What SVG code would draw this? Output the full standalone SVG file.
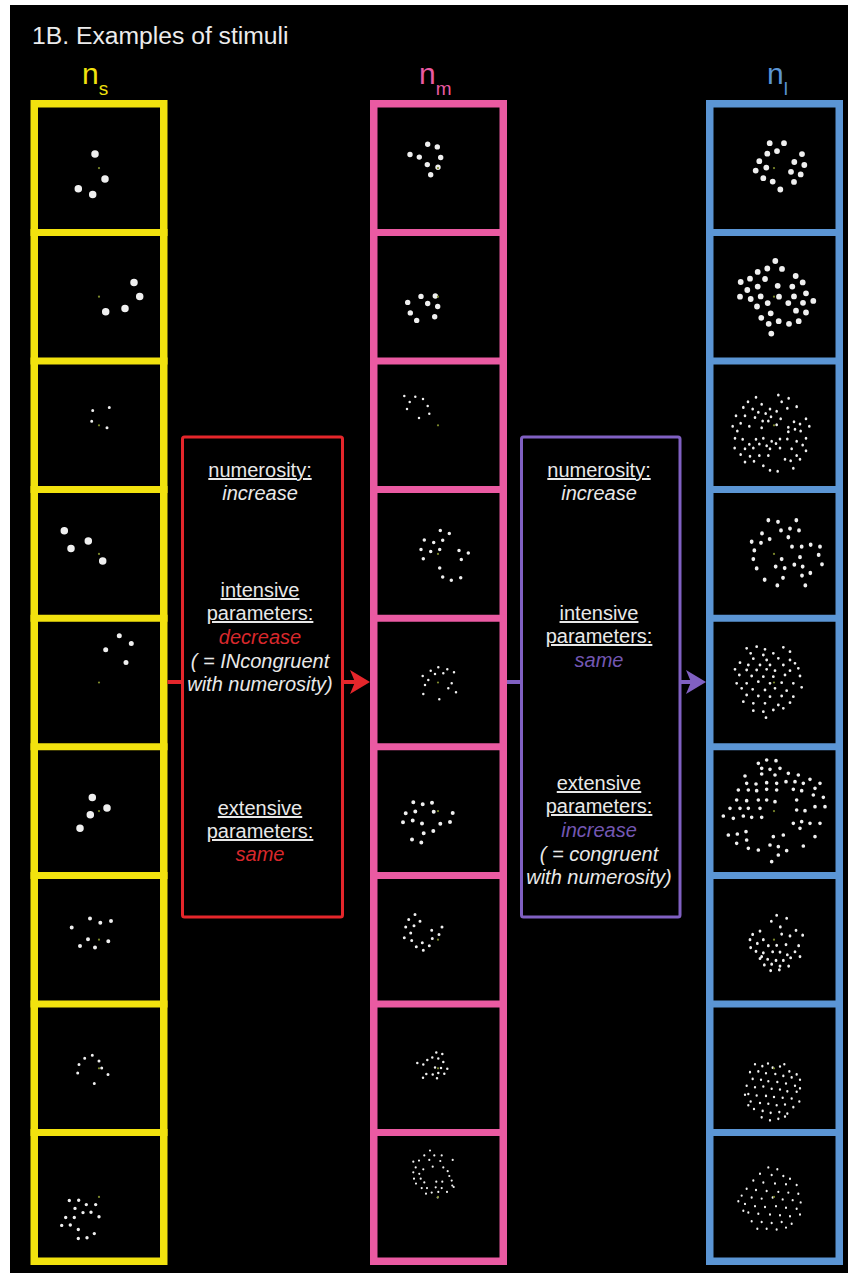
<svg xmlns="http://www.w3.org/2000/svg" width="854" height="1278" viewBox="0 0 854 1278">
<defs>
<style>
.lab{font-family:"Liberation Sans",Arial,Helvetica,sans-serif}
.t{font-family:"Liberation Sans",Arial,Helvetica,sans-serif;font-size:20px;text-anchor:middle;fill:#e9e9e9}
.u{text-decoration:underline}
.i{font-style:italic}
.tr{fill:#d8282c}
.tp{fill:#7357b3}
.col{fill:none;stroke-width:7.5}
.dv{fill:none;stroke-width:7}
.d{fill:none;stroke:#efefef;stroke-linecap:round}
.fx{fill:#7d8a2c}
.y{stroke:#f2e20e}
.p{stroke:#ea5aa2}
.b{stroke:#5b95d4}
</style>
<marker id="ahR" markerUnits="userSpaceOnUse" markerWidth="20" markerHeight="24" refX="10" refY="12" orient="auto"><path d="M0,0 L20,12 L0,24 L5,12 z" fill="#e5262b"/></marker>
<marker id="ahP" markerUnits="userSpaceOnUse" markerWidth="20" markerHeight="24" refX="10" refY="12" orient="auto"><path d="M0,0 L20,12 L0,24 L5,12 z" fill="#8060c2"/></marker>
</defs>
<rect x="0" y="0" width="854" height="1278" fill="#ffffff"/>
<rect x="10" y="5" width="838" height="1268" fill="#000000"/>
<text class="lab" x="32" y="44" font-size="24.7" fill="#ececec">1B. Examples of stimuli</text>

<g id="col-ns">
<text class="lab" x="82" y="84" font-size="30" fill="#f2e20e">n<tspan font-size="19" dy="11">s</tspan></text>
<rect class="col y" x="34.25" y="103.75" width="129.5" height="1157.5"/>
<path class="dv y" d="M30.5 232.4h137M30.5 361h137M30.5 489.6h137M30.5 618.2h137M30.5 746.8h137M30.5 875.4h137M30.5 1004h137M30.5 1132.6h137"/>
<path class="d" stroke-width="7.5" d="M95 154.1h0M105 178.9h0M78.3 188.7h0M92.7 194.4h0M134 282.4h0M139.7 296.4h0M125 308.4h0M105.7 311.8h0M64.3 530.8h0M88.3 541h0M71 548.5h0M102.7 560.9h0M92.3 797.4h0M107 808h0M90.3 814.7h0M80 828.3h0"/>
<path class="d" stroke-width="3" d="M92.7 410.4h0M109.3 407.4h0M91.7 421.3h0M107 427.7h0M92.3 1055.2h0M84.7 1058.2h0M99 1060.9h0M79 1064.6h0M101.7 1068h0M77.7 1072.9h0M108 1074.4h0M94.3 1083.5h0"/>
<path class="d" stroke-width="5" d="M119.3 635.8h0M131.3 643.4h0M105.7 649.8h0M126 662.6h0"/>
<path class="d" stroke-width="4" d="M90 918.6h0M100.3 922.8h0M111 920.9h0M71.7 927.6h0M88 939.3h0M108.3 941.2h0M80 946.1h0M95 947.6h0"/>
<path class="d" stroke-width="3.4" d="M69.3 1200.5h0M78.7 1200.2h0M86.3 1204.6h0M95.7 1204.6h0M75 1208.4h0M83 1212.6h0M91 1212.2h0M65.7 1217.5h0M74.3 1217.5h0M99 1216.7h0M61.7 1225.4h0M70.3 1225h0M78.3 1229.5h0M94.3 1233.6h0M78.3 1238.5h0M87 1237.8h0"/>
<g class="fx"><circle cx="99" cy="168.1" r="1.1"/><circle cx="99" cy="296.7" r="1.1"/><circle cx="99" cy="425.3" r="1.1"/><circle cx="99" cy="553.9" r="1.1"/><circle cx="99" cy="682.5" r="1.1"/><circle cx="99" cy="811.1" r="1.1"/><circle cx="99" cy="939.7" r="1.1"/><circle cx="99" cy="1068.3" r="1.1"/><circle cx="99" cy="1196.9" r="1.1"/></g>
</g>

<g id="col-nm">
<text class="lab" x="419" y="84" font-size="30" fill="#ea5aa2">n<tspan font-size="19" dy="11">m</tspan></text>
<rect class="col p" x="373.75" y="103.75" width="129.5" height="1157.5"/>
<path class="dv p" d="M370 232.4h137M370 361h137M370 489.6h137M370 618.2h137M370 746.8h137M370 875.4h137M370 1004h137M370 1132.6h137"/>
<path class="d" stroke-width="5.4" d="M427.7 144.3h0M437.3 146.9h0M410 154.5h0M419.3 157.1h0M440.7 157.5h0M427.3 164.6h0M438 167.3h0M430.7 174.8h0M421 296.4h0M435.3 296h0M407.7 302.4h0M427.7 303.5h0M437.7 306.5h0M410.3 312.9h0M434.7 316.7h0M416.7 320.4h0"/>
<path class="d" stroke-width="2.5" d="M404.3 396.1h0M415.3 396.8h0M423 399.1h0M409.7 402.1h0M427.7 405.9h0M407 408.9h0M429.3 413.8h0M419 417.9h0M438.3 667.3h0M430.7 670.7h0M447.3 669.3h0M454 672.3h0M422.7 676h0M435 674h0M443.3 673.3h0M428.3 680h0M451.7 683.3h0M425 685h0M448.3 688.3h0M456 692.3h0M423.3 694h0M439.3 699.3h0M436.3 1052.6h0M442.3 1054.1h0M432.3 1057.5h0M427.3 1060.1h0M438.3 1058.6h0M417.3 1063.1h0M423.3 1064.6h0M443.3 1062h0M435 1067.6h0M441 1068h0M447.3 1068.8h0M426.3 1074h0M432.7 1074.4h0M438.3 1072.9h0M444.3 1073.7h0M423 1077.8h0M437 1078.2h0"/>
<path class="d" stroke-width="3.5" d="M440.3 530.5h0M449.3 533.5h0M424.3 539.9h0M433.7 542.5h0M442.7 540.2h0M421 549.6h0M430.7 551.5h0M439.7 549.6h0M459 550.4h0M468.3 553h0M423.3 558.7h0M461.3 559.4h0M439.7 568.1h0M442.7 577.1h0M451.3 580.2h0M460.7 577.8h0"/>
<path class="d" stroke-width="4" d="M413.3 802.3h0M422.7 804.2h0M432 802.7h0M405.7 813.2h0M415.3 811.4h0M433.7 811.7h0M452.7 812.9h0M403 822.3h0M412.7 820.4h0M422 823.4h0M440.3 823.8h0M450 821.9h0M423.7 833.2h0M433.3 830.9h0M412 839.6h0M421.3 842.6h0"/>
<path class="d" stroke-width="3" d="M415 914.5h0M408.7 919.4h0M420 921.3h0M405.7 926.9h0M414 925.8h0M431.7 930.3h0M442 926.9h0M410.7 932.9h0M439 934.4h0M404.3 937.8h0M411.7 940.4h0M432.3 938.6h0M416.3 946.8h0M422.3 942.7h0M429.3 945.7h0M423.3 950.2h0"/>
<path class="d" stroke-width="2.2" d="M430 1150.5h0M424.3 1155.4h0M434.3 1155.4h0M441.7 1155.4h0M413.3 1161.7h0M419 1160.6h0M429.3 1159.9h0M440.3 1161h0M452.7 1159.9h0M415.7 1167.4h0M423.3 1169.3h0M432.7 1166.7h0M443.3 1167.4h0M447.7 1171.2h0M413.3 1172.3h0M419.3 1173.8h0M449.3 1176h0M414 1178.7h0M420.7 1178.7h0M451.7 1180.6h0M416 1183.6h0M424.3 1182.4h0M436.3 1181.7h0M442.3 1181.7h0M452.3 1185.5h0M421.7 1188.1h0M427 1188.1h0M435.7 1187.3h0M441.7 1188.1h0M453.7 1187h0M426 1193.7h0M431.7 1192.6h0M438.3 1191.9h0M447 1191.9h0M437.7 1197.5h0"/>
<g class="fx"><circle cx="438" cy="168.1" r="1.1"/><circle cx="438" cy="296.7" r="1.1"/><circle cx="438" cy="425.3" r="1.1"/><circle cx="438" cy="553.9" r="1.1"/><circle cx="438" cy="682.5" r="1.1"/><circle cx="438" cy="811.1" r="1.1"/><circle cx="438" cy="939.7" r="1.1"/><circle cx="438" cy="1068.3" r="1.1"/><circle cx="438" cy="1196.9" r="1.1"/></g>
</g>

<g id="col-nl">
<text class="lab" x="767" y="84" font-size="30" fill="#5b95d4">n<tspan font-size="19" dy="11">l</tspan></text>
<rect class="col b" x="709.75" y="103.75" width="129.5" height="1157.5"/>
<path class="dv b" d="M706 232.4h137M706 361h137M706 489.6h137M706 618.2h137M706 746.8h137M706 875.4h137M706 1004h137M706 1132.6h137"/>
<path class="d" stroke-width="5.8" d="M769.7 143.2h0M784 143.2h0M767.3 153.7h0M777 151.1h0M802 154.1h0M759.3 161.2h0M794.3 162h0M804.3 165h0M766.3 167.6h0M755.7 170.6h0M791 171.8h0M800.7 174.4h0M763.3 178.2h0M772.7 181.6h0M794 181.9h0M780.3 189.5h0M775.3 261h0M767.3 268.5h0M782 268.9h0M757.7 271.9h0M750 278.7h0M765 279h0M795.7 276h0M740.7 282h0M757.7 286.6h0M777.7 285.8h0M792.3 286.6h0M802.7 282.4h0M747.3 290h0M806 293.3h0M740 296.7h0M750.7 299h0M760.7 296.4h0M779 296.7h0M794 296.4h0M803 302.8h0M813.3 300.9h0M767.7 303.1h0M788.3 303.1h0M757 306.5h0M770.7 313.3h0M796 310.7h0M806 312.5h0M761.3 317.8h0M768.7 323.8h0M778.7 321.2h0M789 323.8h0M798.7 321.2h0M771.3 333.6h0"/>
<g transform="translate(700,95) scale(0.33333,0.37636)">
<path class="d" stroke-width="8" d="M235 797h0M168 803h0M266 806h0M144 815h0M245 815h0M185 822h0M290 828h0M130 830h0M158 834h0M210 834h0M262 832h0M175 843h0M197 846h0M230 840h0M108 852h0M135 852h0M165 857h0M213 855h0M242 860h0M318 860h0M122 872h0M188 866h0M205 866h0M230 876h0M282 868h0M300 874h0M98 880h0M148 880h0M185 884h0M265 883h0M285 888h0M328 880h0M112 893h0M265 895h0M302 893h0M105 912h0M128 915h0M168 915h0M190 912h0M215 920h0M240 914h0M262 914h0M290 920h0M318 912h0M148 928h0M178 927h0M200 932h0M228 926h0M308 930h0M104 938h0M135 940h0M160 938h0M210 940h0M240 938h0M275 940h0M318 945h0M122 955h0M150 960h0M178 958h0M205 958h0M255 968h0M290 958h0M135 975h0M162 973h0M190 985h0M272 972h0M210 997h0M233 1000h0M280 992h0M300 968h0"/>
<path class="d" stroke-width="11.5" d="M205 1130h0M234 1134h0M289 1130h0M243 1157h0M270 1152h0M297 1157h0M186 1165h0M155 1187h0M183 1190h0M209 1180h0M265 1175h0M276 1200h0M305 1200h0M332 1195h0M360 1200h0M163 1210h0M245 1233h0M300 1228h0M356 1222h0M160 1233h0M227 1253h0M254 1257h0M283 1248h0M308 1253h0M366 1247h0M170 1258h0M194 1288h0M249 1283h0M306 1277h0M331 1270h0M232 1303h0M316 1303h0"/>
</g>
<g transform="translate(500,420) scale(0.33333)">
<path class="d" stroke-width="8.4" d="M740 685h0M770 680h0M795 688h0M850 682h0M870 695h0M752 700h0M820 700h0M790 705h0M760 716h0M800 720h0M835 715h0M870 720h0M720 728h0M745 735h0M780 735h0M810 735h0M850 735h0M885 730h0M895 745h0M705 748h0M740 750h0M770 750h0M800 748h0M825 752h0M870 752h0M718 765h0M755 768h0M790 770h0M820 770h0M855 765h0M900 768h0M710 790h0M740 790h0M775 785h0M810 790h0M845 788h0M880 790h0M725 805h0M758 808h0M795 810h0M825 805h0M860 812h0M905 802h0M740 825h0M775 828h0M810 830h0M845 828h0M880 830h0M730 845h0M760 850h0M795 850h0M835 855h0M870 848h0M760 872h0M790 875h0M820 870h0M850 865h0M798 893h0"/>
<path class="d" stroke-width="11" d="M775 1030h0M800 1020h0M828 1022h0M785 1045h0M810 1048h0M840 1045h0M735 1068h0M785 1062h0M825 1065h0M865 1060h0M895 1065h0M930 1078h0M740 1090h0M768 1092h0M800 1088h0M830 1090h0M858 1085h0M885 1085h0M910 1090h0M945 1105h0M960 1090h0M715 1110h0M745 1110h0M770 1112h0M800 1108h0M830 1110h0M880 1108h0M905 1112h0M940 1125h0M970 1132h0M710 1140h0M740 1142h0M775 1140h0M800 1140h0M825 1145h0M890 1140h0M945 1160h0M975 1160h0M690 1165h0M720 1165h0M745 1165h0M780 1165h0M890 1170h0M915 1172h0M670 1188h0M700 1195h0M730 1188h0M755 1192h0M785 1192h0M880 1210h0M905 1205h0M930 1210h0M960 1210h0M685 1245h0M712 1242h0M738 1235h0M820 1250h0M850 1245h0M900 1225h0M945 1250h0M710 1270h0M745 1285h0M775 1290h0M810 1275h0M835 1280h0M860 1292h0M910 1278h0M835 1305h0M815 1325h0M740 1260h0"/>
</g>
<g transform="translate(700,680) scale(0.33333,0.37636)">
<path class="d" stroke-width="8.5" d="M230 625h0M260 633h0M214 641h0M180 667h0M241 656h0M288 665h0M158 676h0M190 690h0M245 675h0M270 680h0M308 678h0M152 711h0M172 700h0M205 706h0M230 705h0M258 703h0M296 706h0M168 721h0M190 725h0M218 722h0M240 723h0M262 730h0M285 722h0M300 735h0M180 740h0M203 742h0M228 745h0M250 745h0M272 738h0M193 757h0M215 755h0M240 760h0M266 760h0M212 772h0M238 770h0M185 735h0M150 690h0"/>
<path class="d" stroke-width="7" d="M165 1021h0M187 1026h0M204 1019h0M218 1030h0M240 1027h0M253 1021h0M268 1040h0M290 1048h0M150 1042h0M175 1040h0M198 1045h0M226 1047h0M250 1052h0M275 1056h0M300 1062h0M158 1060h0M183 1062h0M205 1066h0M232 1068h0M258 1072h0M285 1078h0M140 1078h0M165 1082h0M190 1080h0M215 1086h0M240 1088h0M262 1093h0M290 1094h0M145 1100h0M170 1104h0M198 1105h0M222 1108h0M248 1110h0M275 1112h0M298 1120h0M152 1120h0M180 1124h0M205 1126h0M230 1130h0M255 1128h0M280 1135h0M162 1140h0M188 1145h0M212 1150h0M238 1148h0M262 1152h0M185 1162h0M210 1170h0M235 1166h0M255 1160h0M145 1130h0M300 1085h0M135 1102h0"/>
<path class="d" stroke-width="6.5" d="M205 1295h0M232 1300h0M180 1312h0M215 1315h0M250 1318h0M270 1325h0M160 1330h0M190 1335h0M225 1338h0M258 1340h0M290 1342h0M140 1352h0M168 1355h0M200 1358h0M235 1360h0M265 1362h0M295 1365h0M125 1370h0M155 1375h0M185 1378h0M218 1375h0M248 1380h0M278 1382h0M302 1388h0M135 1392h0M165 1398h0M195 1400h0M228 1398h0M258 1402h0M290 1405h0M145 1415h0M175 1418h0M210 1420h0M240 1422h0M270 1425h0M300 1420h0M155 1438h0M185 1440h0M215 1443h0M245 1440h0M275 1445h0M172 1458h0M200 1458h0M230 1460h0M258 1455h0M130 1410h0M115 1385h0"/>
</g>
<g class="fx"><circle cx="774" cy="168.1" r="1.1"/><circle cx="774" cy="296.7" r="1.1"/><circle cx="774" cy="425.3" r="1.1"/><circle cx="774" cy="553.9" r="1.1"/><circle cx="774" cy="682.5" r="1.1"/><circle cx="774" cy="811.1" r="1.1"/><circle cx="774" cy="939.7" r="1.1"/><circle cx="774" cy="1068.3" r="1.1"/><circle cx="774" cy="1196.9" r="1.1"/></g>
</g>

<g id="box-red">
<rect x="182.5" y="437" width="160" height="480" rx="2" fill="none" stroke="#e5262b" stroke-width="3"/>
<text class="t u" x="260" y="477">numerosity:</text>
<text class="t i" x="260" y="500">increase</text>
<text class="t u" x="260" y="597">intensive</text>
<text class="t u" x="260" y="620">parameters:</text>
<text class="t i tr" x="260" y="644">decrease</text>
<text class="t i" x="260" y="668">( = INcongruent</text>
<text class="t i" x="260" y="691">with numerosity)</text>
<text class="t u" x="260" y="815">extensive</text>
<text class="t u" x="260" y="838">parameters:</text>
<text class="t i tr" x="260" y="861">same</text>
</g>

<g id="box-purple">
<rect x="521.5" y="437" width="158.5" height="480" rx="2" fill="none" stroke="#8060c2" stroke-width="3"/>
<text class="t u" x="599" y="477">numerosity:</text>
<text class="t i" x="599" y="500">increase</text>
<text class="t u" x="599" y="620">intensive</text>
<text class="t u" x="599" y="643">parameters:</text>
<text class="t i tp" x="599" y="667">same</text>
<text class="t u" x="599" y="790">extensive</text>
<text class="t u" x="599" y="813">parameters:</text>
<text class="t i tp" x="599" y="837">increase</text>
<text class="t i" x="599" y="861">( = congruent</text>
<text class="t i" x="599" y="884">with numerosity)</text>
</g>

<g id="connectors" fill="none" stroke-width="4">
<path d="M167.5 682H182.5" stroke="#e5262b"/>
<path d="M342.5 682H360" stroke="#e5262b" marker-end="url(#ahR)"/>
<path d="M507 682H521.5" stroke="#8060c2"/>
<path d="M680 682H696" stroke="#8060c2" marker-end="url(#ahP)"/>
</g>
</svg>
